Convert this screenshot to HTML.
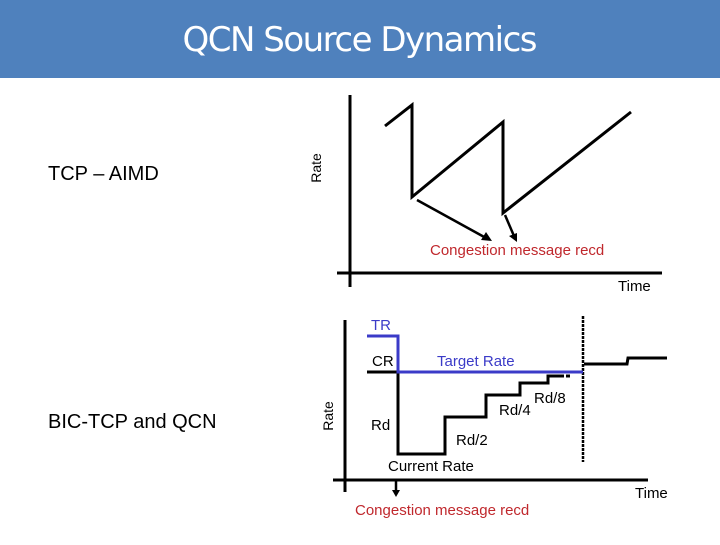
<!DOCTYPE html>
<html><head><meta charset="utf-8"><style>
body{margin:0;width:720px;height:540px;background:#fff;overflow:hidden;font-family:"Liberation Sans",sans-serif}
</style></head><body>
<svg width="720" height="540" xmlns="http://www.w3.org/2000/svg" font-family="Liberation Sans, sans-serif">
<rect x="0" y="0" width="720" height="78" fill="#4f81bd"/>
<text x="360" y="51" text-anchor="middle" fill="#fff" font-size="34" font-family="DejaVu Sans, Liberation Sans, sans-serif" textLength="355">QCN Source Dynamics</text>
<text x="48" y="180" font-size="20" fill="#000">TCP – AIMD</text>
<text x="48" y="428" font-size="20" fill="#000">BIC-TCP and QCN</text>
<!-- top chart -->
<text transform="translate(321,168) rotate(-90)" text-anchor="middle" font-size="14">Rate</text>
<line x1="350" y1="95" x2="350" y2="287" stroke="#000" stroke-width="3"/>
<line x1="337" y1="273" x2="662" y2="273" stroke="#000" stroke-width="3"/>
<polyline points="385,126 412,105 412,197 503,122 503,213 631,112" fill="none" stroke="#000" stroke-width="3"/>
<line x1="417" y1="200" x2="486" y2="238" stroke="#000" stroke-width="2.5"/>
<polygon points="492,241 481,240 486,232" fill="#000"/>
<line x1="505" y1="215" x2="514" y2="236" stroke="#000" stroke-width="2.5"/>
<polygon points="517,242 509,236 517,233" fill="#000"/>
<text x="430" y="255" font-size="15" fill="#c0282d">Congestion message recd</text>
<text x="618" y="291" font-size="15">Time</text>
<!-- bottom chart -->
<text transform="translate(333,416) rotate(-90)" text-anchor="middle" font-size="14">Rate</text>
<line x1="345" y1="320" x2="345" y2="492" stroke="#000" stroke-width="3"/>
<line x1="333" y1="480" x2="648" y2="480" stroke="#000" stroke-width="3"/>
<line x1="583" y1="316" x2="583" y2="462" stroke="#000" stroke-width="2.5" stroke-dasharray="3,1"/>
<line x1="367" y1="372" x2="398" y2="372" stroke="#000" stroke-width="3"/>
<polyline points="398,372 398,454 445,454 445,417 486,417 486,395 520,395 520,383 548,383 548,376 560,376" fill="none" stroke="#000" stroke-width="3"/>
<line x1="560" y1="376" x2="572" y2="376" stroke="#000" stroke-width="3" stroke-dasharray="4,2"/>
<polyline points="367,336 398,336 398,372 583,372" fill="none" stroke="#3b3bc8" stroke-width="3"/>
<polyline points="584,364 627,364 628,358 667,358" fill="none" stroke="#000" stroke-width="3"/>
<line x1="396" y1="480" x2="396" y2="491" stroke="#000" stroke-width="2.5"/>
<polygon points="392,490 400,490 396,497" fill="#000"/>
<text x="371" y="330" font-size="15" fill="#3b3bc8">TR</text>
<text x="372" y="366" font-size="15">CR</text>
<text x="437" y="366" font-size="15" fill="#3b3bc8">Target Rate</text>
<text x="371" y="430" font-size="15">Rd</text>
<text x="456" y="445" font-size="15">Rd/2</text>
<text x="499" y="415" font-size="15">Rd/4</text>
<text x="534" y="403" font-size="15">Rd/8</text>
<text x="388" y="471" font-size="15">Current Rate</text>
<text x="355" y="515" font-size="15" fill="#c0282d">Congestion message recd</text>
<text x="635" y="498" font-size="15">Time</text>
</svg>
</body></html>
